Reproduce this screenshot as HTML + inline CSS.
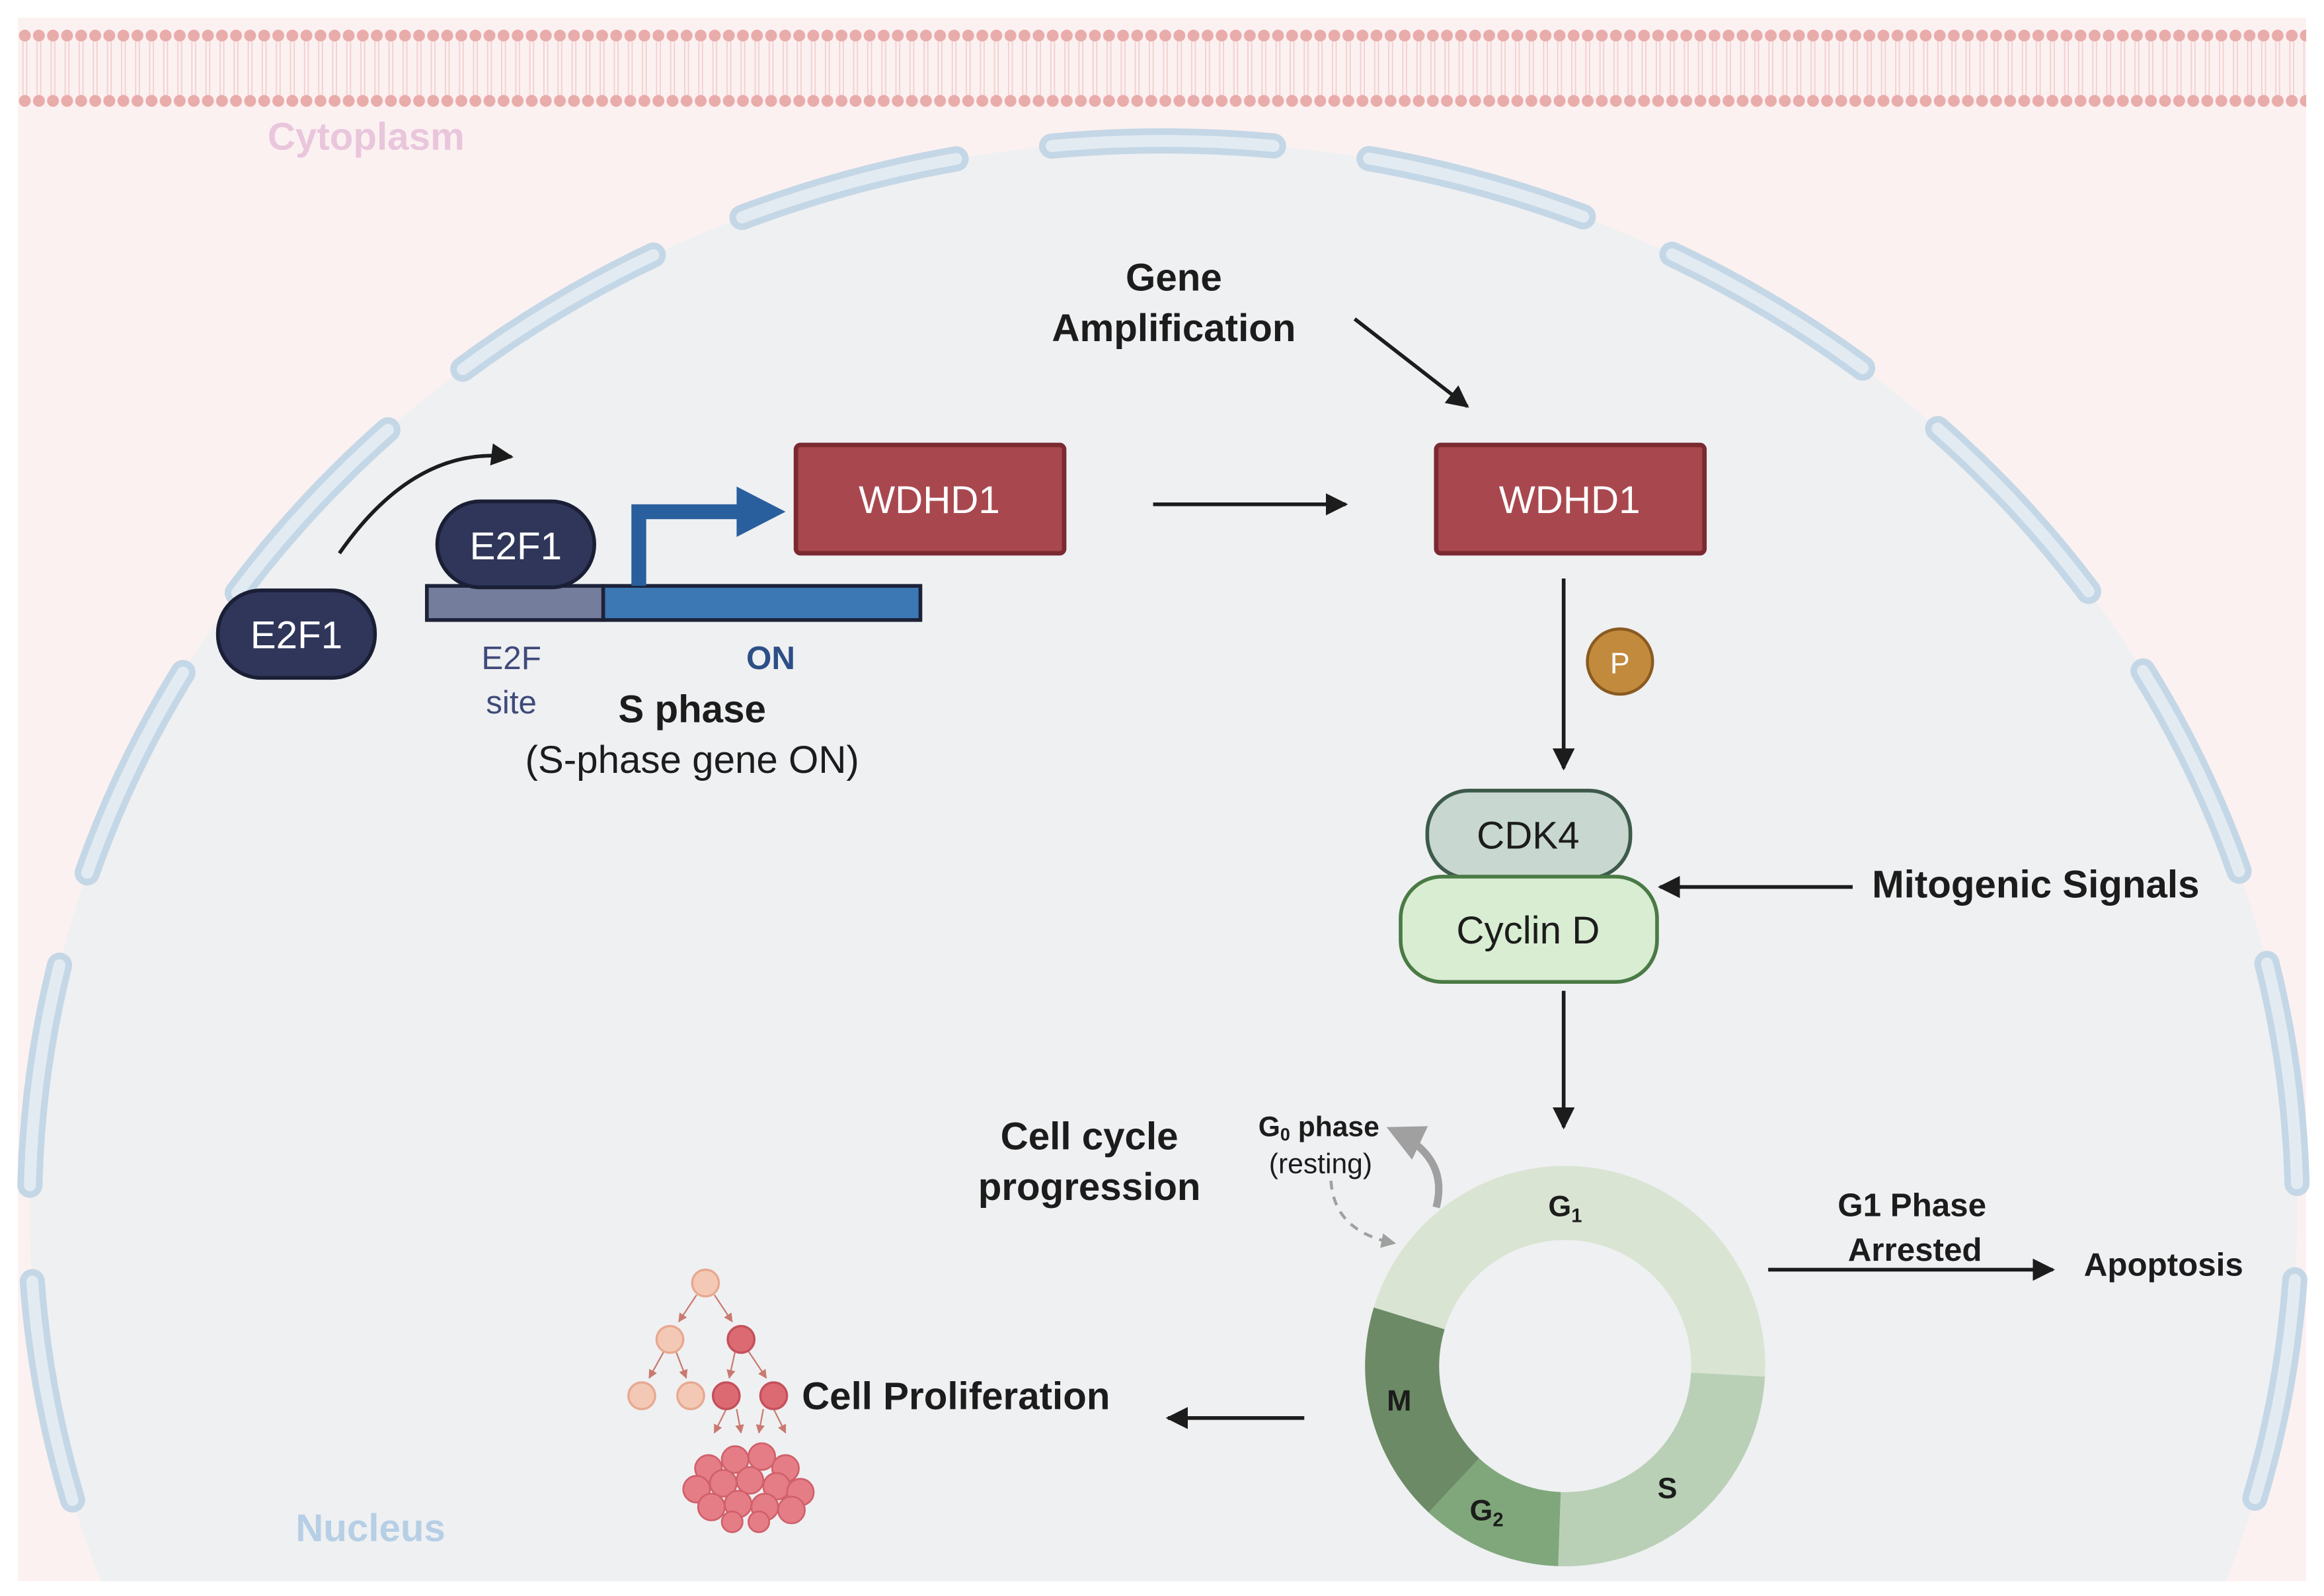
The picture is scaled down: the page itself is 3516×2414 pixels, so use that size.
<!DOCTYPE html>
<html><head><meta charset="utf-8"><style>
html,body{margin:0;padding:0;background:#fff;width:3516px;height:2414px;overflow:hidden;}
svg{display:block;overflow:hidden;}
text{font-family:"Liberation Sans",sans-serif;}
</style></head><body>
<svg width="3516" height="2414" viewBox="0 0 1568 1076" preserveAspectRatio="none" xmlns="http://www.w3.org/2000/svg">
<defs>
<marker id="a" viewBox="0 0 10 10" refX="9" refY="5" markerWidth="6" markerHeight="6" orient="auto"><path d="M0,0L10,5L0,10z" fill="#1c1c1c"/></marker>
<marker id="g" viewBox="0 0 10 10" refX="8" refY="5" markerWidth="5" markerHeight="5" orient="auto"><path d="M0,0L10,5L0,10z" fill="#a0a0a0"/></marker>
<marker id="r" viewBox="0 0 10 10" refX="9" refY="5" markerWidth="6" markerHeight="6" orient="auto"><path d="M0,0L10,5L0,10z" fill="#c97a70"/></marker>
<pattern id="dots" x="12" y="0" width="9.5" height="100" patternUnits="userSpaceOnUse">
<circle cx="4.75" cy="24" r="4" fill="#e8acab"/><circle cx="4.75" cy="68" r="4" fill="#e8acab"/>
<line x1="3.5" y1="28" x2="3.5" y2="64" stroke="#f2cfcf" stroke-width="0.8"/><line x1="6" y1="28" x2="6" y2="64" stroke="#f2cfcf" stroke-width="0.8"/>
</pattern>
</defs>
<rect width="1568" height="1076" fill="#fff"/>
<rect x="12" y="12" width="1544" height="1054" fill="#fcf1f1"/>
<rect x="12" y="12" width="1544" height="70" fill="url(#dots)"/>
<path d="M68,1066 A765,720 0 1 1 1502,1066 Z" fill="#eff0f2"/>
<path d="M68,1066 A765,720 0 1 1 1502,1066" fill="none" stroke="#c4d7e6" stroke-width="17" stroke-linecap="round" stroke-dasharray="150 65" stroke-dashoffset="157"/>
<path d="M68,1066 A765,720 0 1 1 1502,1066" fill="none" stroke="#e3ebf2" stroke-width="8" stroke-linecap="round" stroke-dasharray="150 65" stroke-dashoffset="157"/>
<text x="247" y="101" font-size="26" font-weight="bold" fill="#e9c6dc" text-anchor="middle">Cytoplasm</text>
<text x="250" y="1039" font-size="26" font-weight="bold" fill="#b6cfe5" text-anchor="middle">Nucleus</text>

<path d="M229,373 Q280,300 345,308" fill="none" stroke="#1c1c1c" stroke-width="2.5" marker-end="url(#a)"/>
<rect x="147" y="398" width="106" height="59" rx="29" fill="#2f365a" stroke="#1a1f36" stroke-width="2.5"/>
<text x="200" y="437" font-size="26" fill="#fff" text-anchor="middle">E2F1</text>
<rect x="288" y="395" width="119" height="23" fill="#747d9c" stroke="#1d2238" stroke-width="2.5"/>
<rect x="407" y="395" width="214" height="23" fill="#3b78b4" stroke="#1d2238" stroke-width="2.5"/>
<rect x="295" y="338" width="106" height="58" rx="29" fill="#2f365a" stroke="#1a1f36" stroke-width="2.5"/>
<text x="348" y="377" font-size="26" fill="#fff" text-anchor="middle">E2F1</text>
<path d="M431,395 V345 H500" fill="none" stroke="#2a5f9e" stroke-width="10"/>
<path d="M497,328 L530,345 L497,362z" fill="#2a5f9e"/>
<rect x="537" y="300" width="181" height="73" rx="3" fill="#a8484e" stroke="#7a2a30" stroke-width="3"/>
<text x="627" y="346" font-size="26" fill="#fff" text-anchor="middle">WDHD1</text>
<text x="345" y="451" font-size="22" fill="#3f4a7a" text-anchor="middle">E2F</text>
<text x="345" y="481" font-size="22" fill="#3f4a7a" text-anchor="middle">site</text>
<text x="520" y="451" font-size="22" font-weight="bold" fill="#2c4f86" text-anchor="middle">ON</text>
<text x="467" y="487" font-size="26" font-weight="bold" fill="#1c1c1c" text-anchor="middle">S phase</text>
<text x="467" y="521" font-size="26" fill="#1c1c1c" text-anchor="middle">(S-phase gene ON)</text>

<line x1="778" y1="340" x2="908" y2="340" stroke="#1c1c1c" stroke-width="2.5" marker-end="url(#a)"/>
<text x="792" y="196" font-size="26" font-weight="bold" fill="#1c1c1c" text-anchor="middle">Gene</text>
<text x="792" y="230" font-size="26" font-weight="bold" fill="#1c1c1c" text-anchor="middle">Amplification</text>
<line x1="914" y1="215" x2="990" y2="274" stroke="#1c1c1c" stroke-width="2.5" marker-end="url(#a)"/>
<rect x="969" y="300" width="181" height="73" rx="3" fill="#a8484e" stroke="#7a2a30" stroke-width="3"/>
<text x="1059" y="346" font-size="26" fill="#fff" text-anchor="middle">WDHD1</text>
<line x1="1055" y1="390" x2="1055" y2="518" stroke="#1c1c1c" stroke-width="2.5" marker-end="url(#a)"/>
<circle cx="1093" cy="446" r="22" fill="#c28a3c" stroke="#8a5a20" stroke-width="2"/>
<text x="1093" y="454" font-size="20" fill="#fff" text-anchor="middle">P</text>

<rect x="963" y="533" width="137" height="59" rx="28" fill="#c8d7d0" stroke="#3d5a4a" stroke-width="2.5"/>
<text x="1031" y="572" font-size="26" fill="#1c1c1c" text-anchor="middle">CDK4</text>
<rect x="945" y="591" width="173" height="71" rx="28" fill="#d8edd1" stroke="#4a7a45" stroke-width="2.5"/>
<text x="1031" y="636" font-size="26" fill="#1c1c1c" text-anchor="middle">Cyclin D</text>
<line x1="1250" y1="598" x2="1120" y2="598" stroke="#1c1c1c" stroke-width="2.5" marker-end="url(#a)"/>
<text x="1263" y="605" font-size="26" font-weight="bold" fill="#1c1c1c">Mitogenic Signals</text>
<line x1="1055" y1="668" x2="1055" y2="760" stroke="#1c1c1c" stroke-width="2.5" marker-end="url(#a)"/>

<text x="735" y="775" font-size="26" font-weight="bold" fill="#1c1c1c" text-anchor="middle">Cell cycle</text>
<text x="735" y="809" font-size="26" font-weight="bold" fill="#1c1c1c" text-anchor="middle">progression</text>

<g transform="translate(1056,921)">
<path d="M-129.1,-39.5 A135,135 0 0 1 134.8,7.1 L84.9,4.4 A85,85 0 0 0 -81.3,-24.8z" fill="#d9e4d3"/>
<path d="M134.8,7.1 A135,135 0 0 1 -4.7,134.9 L-3,84.9 A85,85 0 0 0 84.9,4.4z" fill="#b9d0b6"/>
<path d="M-4.7,134.9 A135,135 0 0 1 -92.1,98.7 L-58,62.2 A85,85 0 0 0 -3,84.9z" fill="#80a77b"/>
<path d="M-92.1,98.7 A135,135 0 0 1 -129.1,-39.5 L-81.3,-24.8 A85,85 0 0 0 -58,62.2z" fill="#6b8a65"/>
</g>
<text x="1056" y="820" font-size="20" font-weight="bold" fill="#1c1c1c" text-anchor="middle">G<tspan font-size="13" dy="4">1</tspan></text>
<text x="1125" y="1010" font-size="20" font-weight="bold" fill="#1c1c1c" text-anchor="middle">S</text>
<text x="1003" y="1025" font-size="20" font-weight="bold" fill="#1c1c1c" text-anchor="middle">G<tspan font-size="13" dy="4">2</tspan></text>
<text x="944" y="951" font-size="20" font-weight="bold" fill="#1c1c1c" text-anchor="middle">M</text>
<text x="849" y="766" font-size="19" font-weight="bold" fill="#1c1c1c">G<tspan font-size="12" dy="3">0</tspan><tspan dy="-3"> phase</tspan></text>
<text x="891" y="791" font-size="19" fill="#1c1c1c" text-anchor="middle">(resting)</text>
<path d="M969,814 Q978,780 940,762" fill="none" stroke="#a0a0a0" stroke-width="5" marker-end="url(#g)"/>
<path d="M898,796 Q900,830 940,838" fill="none" stroke="#a0a0a0" stroke-width="2" stroke-dasharray="6 5" marker-end="url(#g)"/>

<line x1="1193" y1="856" x2="1385" y2="856" stroke="#1c1c1c" stroke-width="2.5" marker-end="url(#a)"/>
<text x="1290" y="820" font-size="22" font-weight="bold" fill="#1c1c1c" text-anchor="middle">G1 Phase</text>
<text x="1292" y="850" font-size="22" font-weight="bold" fill="#1c1c1c" text-anchor="middle">Arrested</text>
<text x="1406" y="860" font-size="22" font-weight="bold" fill="#1c1c1c">Apoptosis</text>

<line x1="880" y1="956" x2="788" y2="956" stroke="#1c1c1c" stroke-width="2.5" marker-end="url(#a)"/>
<text x="541" y="950" font-size="26" font-weight="bold" fill="#1c1c1c">Cell Proliferation</text>

<g stroke-width="1" stroke="#c97a70" marker-end="url(#r)">
<line x1="470" y1="873" x2="458" y2="891"/><line x1="482" y1="873" x2="494" y2="891"/>
<line x1="448" y1="911" x2="438" y2="929"/><line x1="456" y1="911" x2="463" y2="929"/>
<line x1="496" y1="911" x2="492" y2="929"/><line x1="505" y1="911" x2="517" y2="929"/>
<line x1="490" y1="950" x2="482" y2="966"/><line x1="522" y1="950" x2="530" y2="966"/>
<line x1="497" y1="950" x2="500" y2="966"/><line x1="515" y1="950" x2="512" y2="966"/>
</g>
<g stroke-width="1.5">
<circle cx="476" cy="865" r="9" fill="#f3c9b5" stroke="#e8a890"/>
<circle cx="452" cy="903" r="9" fill="#f3c9b5" stroke="#e8a890"/>
<circle cx="500" cy="903" r="9" fill="#dc6a72" stroke="#c4505a"/>
<circle cx="433" cy="941" r="9" fill="#f3c9b5" stroke="#e8a890"/>
<circle cx="466" cy="941" r="9" fill="#f3c9b5" stroke="#e8a890"/>
<circle cx="490" cy="941" r="9" fill="#dc6a72" stroke="#c4505a"/>
<circle cx="522" cy="941" r="9" fill="#dc6a72" stroke="#c4505a"/>
</g>
<g fill="#e57d86" stroke="#d0606a" stroke-width="1.2">
<circle cx="478" cy="990" r="9"/><circle cx="496" cy="984" r="9"/><circle cx="514" cy="982" r="9"/><circle cx="530" cy="990" r="9"/>
<circle cx="470" cy="1004" r="9"/><circle cx="488" cy="1000" r="9"/><circle cx="506" cy="998" r="9"/><circle cx="524" cy="1002" r="9"/><circle cx="540" cy="1006" r="9"/>
<circle cx="480" cy="1016" r="9"/><circle cx="498" cy="1014" r="9"/><circle cx="516" cy="1016" r="9"/><circle cx="534" cy="1018" r="9"/>
<circle cx="494" cy="1026" r="7"/><circle cx="512" cy="1026" r="7"/>
</g>
</svg>
</body></html>
